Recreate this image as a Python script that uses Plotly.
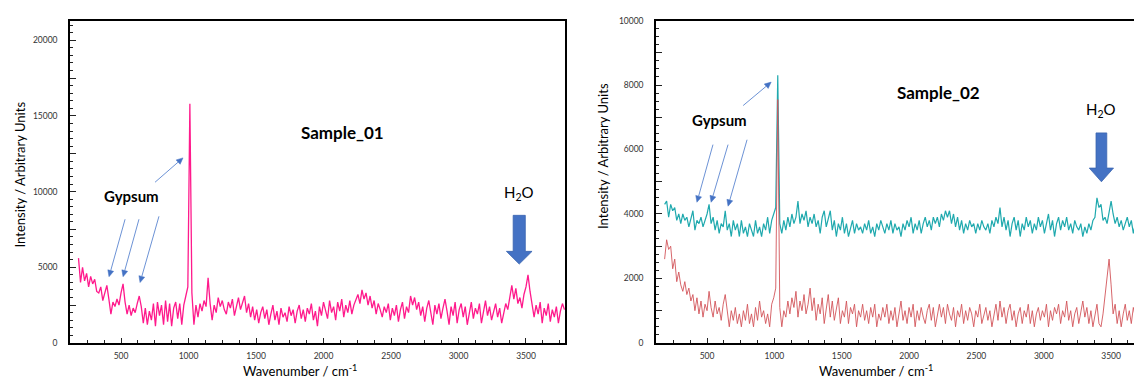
import math
import plotly.graph_objects as go

# ---------------- data ----------------
wavenumber = list(range(185, 3786, 15))  # sampling grid, cm-1

sample01 = [
    5600, 4000, 5000, 4100, 4600, 3700, 4400, 3900, 4200, 3400,
    3300, 3700, 2800, 3300, 3800, 2900, 1900, 2700, 2400, 2900,
    2500, 3300, 3900, 2700, 1900, 2500, 1800, 2300, 2000, 2600,
    3100, 2400, 1300, 2300, 1200, 2100, 1500, 2600, 1100, 2700,
    1800, 2500, 1200, 2800, 1400, 2600, 1100, 2300, 2700, 1600,
    2600, 1200, 2500, 3100, 3700, 15800, 3300, 1200, 2500, 1700,
    2600, 2100, 2800, 2400, 4300, 2600, 1500, 2500, 2000, 3000,
    2400, 2800, 2200, 1900, 2700, 2300, 2900, 1800, 2500, 3000,
    2200, 2700, 3100, 2000, 2600, 1700, 2400, 1500, 2200, 1300,
    2000, 2400, 1600, 2200, 1200, 1900, 2500, 1500, 2100, 1200,
    2300, 1700, 2000, 1400, 2400, 1800, 2200, 1300, 2100, 2500,
    1600, 2200, 1400, 2300, 1900, 2600, 1500, 2100, 1100, 2400,
    1800, 2700, 2200, 1600, 2800, 2000, 2400, 1500, 2700, 2100,
    2900, 1700, 2500, 2000, 2800, 1900, 2500, 2900, 3200, 2600,
    3500, 2900, 3300, 2500, 3100, 2300, 2800, 1900, 2600, 2200,
    1700, 2400, 2000, 2600, 1500, 2300, 1800, 2500, 1400, 2200,
    2700, 1600, 2400, 2000, 3100, 2500, 3000, 2200, 2700, 1800,
    2400, 1400, 2300, 2800, 2000, 1200, 2500, 1900, 2600, 1600,
    2300, 2900, 2100, 1200, 2400, 1800, 2700, 1300, 2200, 2600,
    1700, 2400, 1200, 2100, 2700, 1600, 2300, 1900, 2600, 1300,
    2200, 2800, 1800, 2400, 1500, 2100, 2600, 1700, 2300, 1300,
    2000, 2600, 2200, 3000, 3800, 2900, 3600, 2600, 3000, 2300,
    3200, 3700, 4500, 3400, 2400, 1700, 2500, 1900, 2700, 1300,
    2300, 1800, 2600, 1400, 2200, 1700, 2400, 1300, 2100, 2600,
    2200,
]

sample02_teal = [
    4300, 4400, 3900, 4300, 4100, 4200, 3800, 4000, 3700, 4000,
    3800, 3900, 3600, 3900, 4100, 3500, 3800, 3700, 3900, 3600,
    3800, 4000, 4300, 3700, 3900, 3500, 3800, 3400, 3700, 3600,
    4100, 3500, 3700, 3300, 3800, 3500, 3700, 3300, 3800, 3400,
    3600, 3300, 3700, 3500, 3300, 3800, 3400, 3600, 3300, 3700,
    3500, 3900, 3400, 3800, 4000, 4200, 8300, 3700, 3400, 3800,
    3500, 3900, 3600, 4000, 3700, 3900, 4400, 3700, 4000, 3800,
    4100, 3600, 3900, 3700, 4000, 3600, 3800, 3400, 3900, 4100,
    3600, 3900, 4100, 3500, 3800, 3300, 3700, 3500, 3900, 3400,
    3700, 3300, 3600, 3800, 3400, 3700, 3500, 3600, 3400, 3700,
    3500, 3800, 3400, 3600, 3300, 3700, 3500, 3800, 3600, 3400,
    3700, 3500, 3800, 3400, 3700, 3500, 3600, 3300, 3700, 3500,
    3800, 3600, 3900, 3400, 3700, 3500, 3800, 3400, 3700, 3900,
    3600, 3800, 3500, 3900, 3700, 3900, 3600, 4000, 3800, 4100,
    3900, 4100, 3700, 4000, 3600, 3900, 3500, 3800, 3400, 3700,
    3500, 3800, 3600, 3700, 3400, 3700, 3500, 3800, 3600, 3500,
    3700, 3400, 3800, 3600, 3900, 3700, 4200, 3600, 3900, 3500,
    3800, 3300, 3700, 3900, 3500, 3800, 3300, 3700, 3500, 3900,
    3600, 3800, 3400, 3700, 3500, 3900, 3600, 3800, 3400, 3700,
    4000, 3500, 3800, 3300, 3700, 3900, 3500, 3800, 3600, 3900,
    3500, 3700, 3400, 3800, 3600, 3500, 3700, 3300, 3600, 3400,
    3700, 3500, 3800, 3900, 4500, 4200, 4300, 3800, 3900, 3700,
    4100, 4400, 4000, 3700, 3900, 3600, 3800, 3500, 3700, 3900,
    3600, 3800, 3400, 3700, 3500, 3800, 3600, 3700, 3400, 3800,
    3600,
]

sample02_red = [
    2600, 3200, 2900, 3000, 2300, 2600, 1900, 2200, 1800, 1600,
    1900, 1500, 1700, 1300, 1500, 1000, 1400, 900, 1300, 800,
    1200, 1000, 1600, 1100, 800, 1300, 900, 1100, 700, 1200,
    1500, 900, 500, 1000, 700, 1100, 600, 900, 500, 1000,
    700, 1200, 600, 900, 500, 1100, 700, 1300, 800, 1000,
    600, 900, 500, 1200, 1400, 1700, 7550, 1100, 500, 1000,
    800, 1300, 900, 1400, 1100, 1600, 800, 1300, 1000, 1500,
    900, 1200, 1700, 1000, 1400, 700, 1200, 900, 1400, 600,
    1100, 1500, 800, 1300, 700, 1100, 1400, 600, 1000, 800,
    1300, 600, 1100, 900, 1200, 500, 1000, 800, 1200, 700,
    1000, 600, 1100, 800, 1200, 500, 900, 700, 1100, 800,
    1200, 600, 1000, 700, 1100, 500, 900, 1300, 700, 1000,
    600, 1100, 800, 1200, 500, 1000, 700, 1100, 800, 600,
    1000, 1200, 700, 1100, 500, 900, 1200, 800, 1100, 600,
    1200, 900, 700, 1100, 500, 1000, 800, 1200, 600, 1000,
    700, 1100, 900, 500, 1000, 800, 1200, 600, 900, 1100,
    700, 1000, 500, 900, 1200, 700, 1300, 800, 1100, 600,
    1000, 1200, 700, 1000, 500, 900, 1100, 600, 1000, 800,
    1200, 600, 1000, 500, 900, 1100, 700, 1000, 800, 1200,
    500, 1000, 700, 1100, 900, 1200, 600, 1000, 800, 1300,
    700, 1000, 500, 900, 1100, 600, 1000, 1300, 800, 1100,
    600, 1000, 500, 900, 1200, 600, 500, 900, 1500, 2000,
    2600, 1800, 900, 1200, 600, 1000, 500, 900, 1200, 700,
    1000, 600, 1100, 800, 1000, 600, 900, 1100, 700, 1000,
    800,
]

x_tick_vals = [500, 1000, 1500, 2000, 2500, 3000, 3500]
x_tick_text = ["500", "1000", "1500", "2000", "2500", "3000", "3500"]
y1_tick_vals = [0, 5000, 10000, 15000, 20000]
y1_tick_text = ["0", "5000", "10000", "15000", "20000"]
y2_tick_vals = [0, 2000, 4000, 6000, 8000, 10000]
y2_tick_text = ["0", "2000", "4000", "6000", "8000", "10000"]

# ---------------- figure ----------------
W, H = 1134, 382
FONT = "Lato, 'Open Sans', Arial, sans-serif"
BLUE = "#4472C4"
ARROW = "#5B86D0"

X1_DOM, X1_RANGE = [70 / W, 565 / W], [122, 3789]
X2_DOM, X2_RANGE = [656 / W, 1.0], [121, 3670]
Y_DOM = [35 / H, 366 / H]
Y1_RANGE, Y2_RANGE = [0, 21300], [0, 10000]

fig = go.Figure()
fig.add_trace(go.Scatter(x=wavenumber, y=sample01, mode="lines",
                         line=dict(color="#FF1A8C", width=1.3),
                         xaxis="x", yaxis="y", showlegend=False))
fig.add_trace(go.Scatter(x=wavenumber, y=sample02_teal, mode="lines",
                         line=dict(color="#1FA9AE", width=1.2),
                         xaxis="x2", yaxis="y2", showlegend=False))
fig.add_trace(go.Scatter(x=wavenumber, y=sample02_red, mode="lines",
                         line=dict(color="#D2555A", width=0.9),
                         xaxis="x2", yaxis="y2", showlegend=False))
# empty traces so the tick-only overlay axes get drawn
fig.add_trace(go.Scatter(x=[], y=[], xaxis="x", yaxis="y3", showlegend=False, hoverinfo="skip"))
fig.add_trace(go.Scatter(x=[], y=[], xaxis="x2", yaxis="y4", showlegend=False, hoverinfo="skip"))

common_x = dict(showgrid=False, zeroline=False, showline=True, linecolor="black",
                linewidth=1.5, ticks="inside", ticklen=5, tickwidth=1, tickcolor="#222",
                tickvals=x_tick_vals, ticktext=x_tick_text,
                tickfont=dict(size=8.5, color="#333", family=FONT),
                ticklabelstandoff=4,
                minor=dict(ticks="inside", ticklen=3, dtick=125, tick0=0, tickcolor="#222"))
common_y = dict(showgrid=False, zeroline=False, showline=True, linecolor="black",
                linewidth=1.5, ticks="inside", ticklen=6, tickwidth=1, tickcolor="#222",
                tickfont=dict(size=8.5, color="#333", family=FONT), ticklabelstandoff=9)
tick_only = dict(showgrid=False, zeroline=False, showline=False, showticklabels=False,
                 ticks="inside", ticklen=6, tickwidth=1, tickcolor="#222", side="left")

fig.update_layout(
    width=W, height=H,
    margin=dict(l=0, r=0, t=0, b=0),
    paper_bgcolor="white", plot_bgcolor="white",
    font=dict(family=FONT, color="black"),
    xaxis=dict(domain=X1_DOM, range=X1_RANGE, anchor="y", mirror=True, **common_x),
    yaxis=dict(domain=Y_DOM, range=Y1_RANGE, anchor="x", mirror=True,
               tickvals=y1_tick_vals, ticktext=y1_tick_text,
               minor=dict(ticks="inside", ticklen=3, dtick=500, tick0=0, tickcolor="#222"),
               **common_y),
    yaxis3=dict(domain=Y_DOM, range=Y1_RANGE, anchor="x", overlaying="y",
                tick0=0, dtick=2500, **tick_only),
    xaxis2=dict(domain=X2_DOM, range=X2_RANGE, anchor="y2", mirror=True, **common_x),
    yaxis2=dict(domain=Y_DOM, range=Y2_RANGE, anchor="x2", mirror=False,
                tickvals=y2_tick_vals, ticktext=y2_tick_text,
                minor=dict(ticks="inside", ticklen=3, dtick=250, tick0=0, tickcolor="#222"),
                **common_y),
    yaxis4=dict(domain=Y_DOM, range=Y2_RANGE, anchor="x2", overlaying="y2",
                tick0=0, dtick=1000, **tick_only),
)

ann = []
# axis titles
for xc, yc in [(20, 174), (603, 155)]:
    ann.append(dict(xref="paper", yref="paper", x=xc / W, y=1 - yc / H, text="Intensity / Arbitrary Units",
                    textangle=-90, showarrow=False, font=dict(size=13, color="black"),
                    xanchor="center", yanchor="middle"))
for xc in [300, 876]:
    ann.append(dict(xref="paper", yref="paper", x=xc / W, y=1 - 375 / H,
                    text="Wavenumber / cm<sup>-1</sup>", showarrow=False,
                    font=dict(size=13, color="black"), xanchor="center", yanchor="middle"))

# panel labels
ann.append(dict(xref="x", yref="y", x=2144, y=13900, text="<b>Sample_01</b>", showarrow=False,
                font=dict(size=17, color="black")))
ann.append(dict(xref="x2", yref="y2", x=2215, y=7758, text="<b>Sample_02</b>", showarrow=False,
                font=dict(size=17, color="black")))
ann.append(dict(xref="x", yref="y", x=581, y=9717, text="<b>Gypsum</b>", showarrow=False,
                font=dict(size=15, color="black")))
ann.append(dict(xref="x2", yref="y2", x=596, y=6909, text="<b>Gypsum</b>", showarrow=False,
                font=dict(size=15, color="black")))
ann.append(dict(xref="x", yref="y", x=3448, y=9910, text="H<sub>2</sub>O", showarrow=False,
                font=dict(size=15, color="black")))
ann.append(dict(xref="x2", yref="y2", x=3425, y=7212, text="H<sub>2</sub>O", showarrow=False,
                font=dict(size=15, color="black")))
fig.update_layout(annotations=ann)


# ---- thin pointer arrows drawn as shapes (line + triangular head) ----
def to_px(wn, val, xdom, xr, yr):
    px = (xdom[0] + (wn - xr[0]) / (xr[1] - xr[0]) * (xdom[1] - xdom[0])) * W
    py = (1 - (Y_DOM[0] + (val - yr[0]) / (yr[1] - yr[0]) * (Y_DOM[1] - Y_DOM[0]))) * H
    return px, py


def add_pointer(tail, head, xdom, xr, yr):
    tx, ty = to_px(*tail, xdom, xr, yr)
    hx, hy = to_px(*head, xdom, xr, yr)
    d = math.hypot(hx - tx, hy - ty)
    ux, uy = (hx - tx) / d, (hy - ty) / d
    L, Wd = 6.5, 3.0
    bx, by = hx - ux * L, hy - uy * L
    p1 = (bx - uy * Wd, by + ux * Wd)
    p2 = (bx + uy * Wd, by - ux * Wd)
    fx = lambda p: p / W
    fy = lambda p: 1 - p / H
    fig.add_shape(type="line", xref="paper", yref="paper",
                  x0=fx(tx), y0=fy(ty), x1=fx(bx), y1=fy(by),
                  line=dict(color=ARROW, width=0.9))
    fig.add_shape(type="path", xref="paper", yref="paper",
                  path=f"M {fx(hx)} {fy(hy)} L {fx(p1[0])} {fy(p1[1])} L {fx(p2[0])} {fy(p2[1])} Z",
                  fillcolor=BLUE, line=dict(color=BLUE, width=0.5))


# (tail wn, tail intensity) -> (head wn, head intensity)
left_arrows = [((530, 8172), (411, 4376)), ((633, 8172), (515, 4376)),
               ((781, 8366), (641, 3990)), ((752, 10618), (959, 12227))]
right_arrows = [((544, 6152), (425, 4364)), ((656, 6152), (530, 4364)),
                ((797, 6303), (656, 4242)), ((768, 7364), (976, 8091))]
for t, h in left_arrows:
    add_pointer(t, h, X1_DOM, X1_RANGE, Y1_RANGE)
for t, h in right_arrows:
    add_pointer(t, h, X2_DOM, X2_RANGE, Y2_RANGE)

# block arrows for H2O
fig.add_shape(type="path", xref="x", yref="y",
              path="M 3405 8430 L 3495 8430 L 3495 6050 L 3545 6050 L 3450 5210 L 3355 6050 L 3405 6050 Z",
              fillcolor=BLUE, line=dict(color="#3A64B0", width=0.8))
fig.add_shape(type="path", xref="x2", yref="y2",
              path="M 3388 6515 L 3468 6515 L 3468 5424 L 3518 5424 L 3428 5000 L 3338 5424 L 3388 5424 Z",
              fillcolor=BLUE, line=dict(color="#3A64B0", width=0.8))

fig.write_html("out.html")
